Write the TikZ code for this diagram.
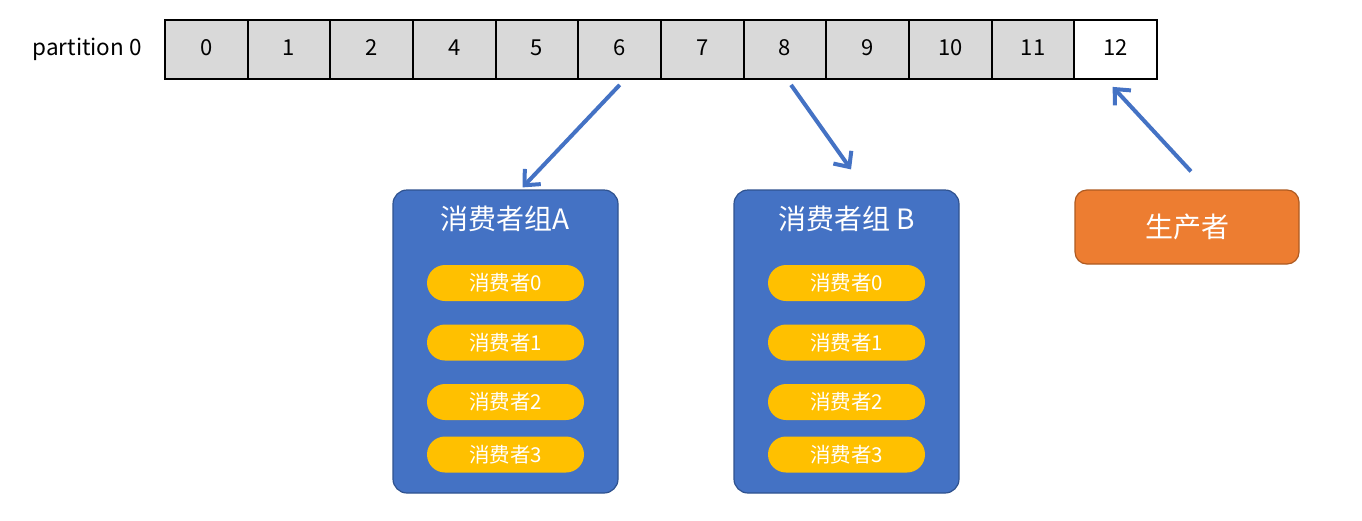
\documentclass[tikz,border=0pt]{standalone}
\usepackage{fontspec}
\setmainfont{Noto Sans CJK SC}
\usetikzlibrary{arrows.meta}
\definecolor{cellgray}{HTML}{D9D9D9}
\definecolor{groupblue}{HTML}{4472C4}
\definecolor{groupline}{HTML}{2F528F}
\definecolor{memberyellow}{HTML}{FFC000}
\definecolor{prodorange}{HTML}{ED7D31}
\definecolor{prodline}{HTML}{AE5A21}
\tikzstyle{cell} = [rectangle, draw=black, line width=1.8pt, fill=cellgray, minimum width=82.67pt, minimum height=59pt, inner sep=0pt, font=\fontsize{22}{26}\selectfont]
\tikzstyle{group} = [rectangle, rounded corners=14pt, draw=groupline, line width=1.2pt, fill=groupblue, minimum width=225pt, minimum height=303pt]
\tikzstyle{grouptitle} = [text=white, inner sep=0pt, font=\fontsize{28}{32}\selectfont]
\tikzstyle{member} = [rectangle, rounded corners=18pt, fill=memberyellow, minimum width=157pt, minimum height=36pt, inner sep=0pt, text=white, font=\fontsize{20.5}{24}\selectfont]
\tikzstyle{producer} = [rectangle, rounded corners=12pt, draw=prodline, line width=1.2pt, fill=prodorange, minimum width=224pt, minimum height=74pt, text=white, font=\fontsize{28}{32}\selectfont]
\tikzstyle{arrow} = [line width=4pt, draw=groupblue, -{Straight Barb[length=12pt,width=22pt]}]

\begin{document}
\begin{tikzpicture}[x=1pt, y=-1pt]
    \useasboundingbox (0,0) rectangle (1362,520);

    \node [anchor=east, inner sep=0pt, font=\fontsize{22.5}{26}\selectfont] at (142,49) (part) {partition 0};
    \foreach \lbl [count=\i from 0] in {0,1,2,4,5,6,7,8,9,10,11}
        \node [cell] at ({165+(\i+0.5)*82.67},49.5) (c\lbl) {\raisebox{3pt}{\lbl}};
    \node [cell, fill=white] at (1115.7,49.5) (c12) {\raisebox{3pt}{12}};

    \node [group] at (505.5,341.5) (gA) {};
    \node [grouptitle] at (505.5,219) (tA) {消费者组A};
    \node [member] at (505.5,283) (a0) {消费者0};
    \node [member] at (505.5,342.5) (a1) {消费者1};
    \node [member] at (505.5,402) (a2) {消费者2};
    \node [member] at (505.5,454.5) (a3) {消费者3};

    \node [group] at (846.5,341.5) (gB) {};
    \node [grouptitle] at (846.5,219) (tB) {消费者组 B};
    \node [member] at (846.5,283) (b0) {消费者0};
    \node [member] at (846.5,342.5) (b1) {消费者1};
    \node [member] at (846.5,402) (b2) {消费者2};
    \node [member] at (846.5,454.5) (b3) {消费者3};

    \node [producer] at (1187,227) (prod) {生产者};

    \draw [arrow] ([yshift=-5pt]c6.south) -- ([xshift=17pt,yshift=2pt]gA.north);
    \draw [arrow] ([xshift=6pt,yshift=-5pt]c8.south) -- ([xshift=4.5pt,yshift=20pt]gB.north);
    \draw [arrow] ([xshift=4pt,yshift=18pt]prod.north) -- ([xshift=-3pt,yshift=-7pt]c12.south);
\end{tikzpicture}
\end{document}
